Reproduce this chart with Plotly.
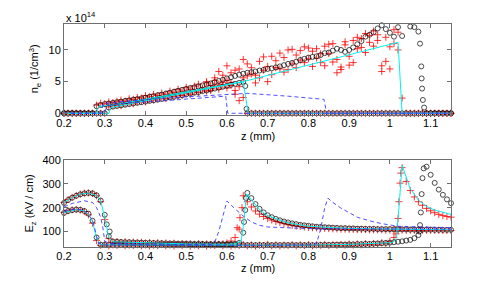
import plotly.graph_objects as go

# ---------------- data ----------------
z_grid = [0.20, 0.21, 0.22, 0.23, 0.24, 0.25, 0.26, 0.27, 0.28, 0.29,
          0.30, 0.31, 0.32, 0.33, 0.34, 0.35, 0.36, 0.37, 0.38, 0.39,
          0.40, 0.41, 0.42, 0.43, 0.44, 0.45, 0.46, 0.47, 0.48, 0.49,
          0.50, 0.51, 0.52, 0.53, 0.54, 0.55, 0.56, 0.57, 0.58, 0.59,
          0.60, 0.61, 0.62, 0.63, 0.64, 0.65, 0.66, 0.67, 0.68, 0.69,
          0.70, 0.71, 0.72, 0.73, 0.74, 0.75, 0.76, 0.77, 0.78, 0.79,
          0.80, 0.81, 0.82, 0.83, 0.84, 0.85, 0.86, 0.87, 0.88, 0.89,
          0.90, 0.91, 0.92, 0.93, 0.94, 0.95, 0.96, 0.97, 0.98, 0.99,
          1.00, 1.01, 1.02, 1.03, 1.04, 1.05, 1.06, 1.07, 1.08, 1.09,
          1.10, 1.11, 1.12, 1.13, 1.14, 1.15]

# electron density (x 1e14 1/cm^3) -- circles, two snapshots
ne_circ_A = [0, 0, 0, 0, 0, 0, 0, 0, 0, 0,
             0, 0.9, 1.05, 1.15, 1.25, 1.35, 1.45, 1.55, 1.65, 1.75,
             1.85, 1.95, 2.05, 2.15, 2.25, 2.4, 2.5, 2.6, 2.75, 2.85,
             3.0, 3.1, 3.25, 3.35, 3.5, 3.6, 3.75, 3.9, 4.05, 4.2,
             4.35, 4.5, 4.65, 4.8, 4.95, 0, 0, 0, 0, 0,
             0, 0, 0, 0, 0, 0, 0, 0, 0, 0,
             0, 0, 0, 0, 0, 0, 0, 0, 0, 0,
             0, 0, 0, 0, 0, 0, 0, 0, 0, 0,
             0, 0, 0, 0, 0, 0, 0, 0, 0, 0,
             0, 0, 0, 0, 0, 0]
ne_circ_B = [0, 0, 0, 0, 0, 0, 0, 0, 1.1, 1.3,
             1.45, 1.55, 1.65, 1.75, 1.85, 1.95, 2.05, 2.15, 2.25, 2.35,
             2.45, 2.6, 2.7, 2.85, 2.95, 3.1, 3.25, 3.4, 3.55, 3.7,
             3.85, 4.0, 4.1, 4.25, 4.4, 4.55, 4.7, 4.9, 5.1, 5.3,
             5.5, 5.7, 5.9, 6.1, 6.25, 6.4, 6.5, 6.6, 6.75, 6.85,
             7.0, 7.1, 7.25, 7.4, 7.6, 7.8, 7.95, 8.15, 8.4, 8.6,
             8.8, 8.9, 9.0, 9.2, 9.5, 9.6, 9.9, 10.2, 10.0, 9.7,
             10.0, 10.4, 10.9, 11.4, 12.1, 12.4, 12.8, 13.4, 13.9, 13.3,
             12.7, 12.1, 13.6, 12.2, None, 13.7, 13.6, 12.9, None, 0,
             0, 0, 0, 0, 0, 0]
ne_circ_extra_z = [0.645, 0.648, 1.074, 1.077, 1.078, 1.079, 1.081, 1.084]
ne_circ_extra = [4.3, 0.7, 11.0, 7.4, 5.5, 3.9, 2.1, 0.9]

# electron density -- red plus markers
ne_plus_A = [0, 0, 0, 0, 0, 0, 0, 0, 0, 0,
             0, 1.0, 1.2, 1.3, 1.2, 1.5, 1.6, 1.5, 1.8, 1.9,
             1.8, 2.2, 2.1, 2.3, 2.5, 2.3, 2.7, 2.6, 2.9, 2.8,
             3.2, 3.0, 3.4, 3.3, 3.7, 3.5, 3.9, 4.3, 3.8, 4.5,
             4.0, 4.9, 3.6, 4.2, 2.5, 0, 0, 0, 0, 0,
             0, 0, 0, 0, 0, 0, 0, 0, 0, 0,
             0, 0, 0, 0, 0, 0, 0, 0, 0, 0,
             0, 0, 0, 0, 0, 0, 0, 0, 0, 0,
             0, 0, 0, 0, 0, 0, 0, 0, 0, 0,
             0, 0, 0, 0, 0, 0]
ne_plus_B = [0, 0, 0, 0, 0, 0, 0, 0, 1.3, 1.6,
             1.5, 1.8, 1.7, 1.9, 2.1, 1.9, 2.3, 2.2, 2.5, 2.4,
             2.8, 2.6, 3.0, 2.8, 3.2, 3.0, 3.5, 3.3, 3.8, 3.5,
             4.1, 3.8, 4.3, 4.6, 4.0, 5.0, 4.4, 5.6, 4.6, 6.0,
             5.2, 6.4, 3.0, 7.0, 5.6, 7.8, 6.2, 4.8, 8.2, 6.8,
             5.0, 9.0, 7.2, 9.5, 6.5, 10.0, 7.8, 9.2, 8.4, 10.5,
             8.6, 9.8, 10.2, 8.0, 10.6, 9.4, 11.0, 8.5, 6.9, 10.8,
             7.6, 11.5, 12.0, 10.4, 12.6, 11.2, 13.0, 12.4, 7.5, 8.2,
             10.5, 13.2, 12.8, 2.4, 0, 0, 0, 0, 0, 0,
             0, 0, 0, 0, 0, 0]
ne_plus_B2 = [None, None, None, None, None, None, None, None, None, None,
              None, None, None, None, None, None, None, None, None, None,
              None, None, None, None, None, None, None, None, None, None,
              None, None, None, None, None, 4.8, 3.6, 5.2, 6.6, 4.9,
              7.5, 4.4, 6.8, 2.0, 8.5, 5.9, 7.2, 6.0, 5.6, 8.9,
              7.4, 6.1, 8.3, 7.0, 8.8, 6.9, 10.1, 7.2, 9.9, 8.0,
              10.3, 7.4, 8.7, 9.4, 7.5, 10.9, 8.1, 6.4, 7.3, 11.3,
              9.0, 8.0, 10.2, 11.8, 9.6, 12.3, 10.6, 11.5, 6.6, 12.0,
              7.0, 11.0, 10.0, None, None, None, None, None, None, None,
              None, None, None, None, None, None]

# electron density -- cyan solid and blue dashed curves
ne_cyanA_z = [0.2, 0.31, 0.315, 0.64, 0.652, 1.15]
ne_cyanA = [0, 0, 0.9, 5.0, 0, 0]
ne_cyanB_z = [0.2, 0.28, 0.285, 0.32, 0.64, 1.02, 1.03, 1.15]
ne_cyanB = [0, 0, 1.1, 1.3, 5.0, 11.2, 0, 0]
ne_dashA_z = [0.2, 0.3, 0.305, 0.35, 0.45, 0.55, 0.597, 0.602, 1.15]
ne_dashA = [0, 0, 1.2, 1.6, 2.0, 2.4, 2.7, 0, 0]
ne_dashB_z = [0.2, 0.29, 0.297, 0.35, 0.45, 0.55, 0.65, 0.75, 0.838, 0.845, 1.15]
ne_dashB = [0, 0, 1.5, 1.9, 2.4, 2.8, 3.15, 2.7, 2.2, 0, 0]

# axial electric field (kV/cm) -- circles
E_circ_A = [220, 232, 242, 250, 256, 260, 262, 260, 252, 230,
            170, 80, 58, 57, 56, 55, 55, 54, 54, 53,
            53, 52, 52, 51, 51, 50, 50, 50, 49, 49,
            49, 48, 48, 48, 48, 47, 47, 47, 47, 47,
            47, 47, 48, 52, 95, 262, 240, 215, 195, 180,
            168, 160, 153, 147, 142, 138, 134, 131, 128, 126,
            124, 122, 120, 119, 118, 117, 116, 115, 114, 114,
            113, 113, 112, 112, 111, 111, 111, 110, 110, 110,
            110, 109, 109, 109, 109, 108, 108, 108, 108, 108,
            108, 107, 107, 107, 107, 107]
E_circ_B = [178, 186, 190, 192, 191, 186, 175, 145, 75, 45,
            44, 44, 43, 43, 43, 43, 43, 43, 43, 43,
            43, 43, 43, 43, 43, 43, 43, 43, 43, 43,
            43, 43, 43, 43, 43, 43, 43, 43, 43, 43,
            43, 43, 43, 43, 43, 43, 43, 43, 43, 43,
            43, 43, 43, 43, 43, 43, 43, 43, 43, 43,
            43, 43, 43, 44, 44, 44, 44, 45, 45, 45,
            46, 46, 47, 47, 48, 48, 49, 50, 51, 52,
            53, 55, 57, 59, 62, 65, 72, 85, None, 372,
            338, 304, 276, 254, 235, 219]
E_circ_extra_z = [0.305, 0.312, 0.642, 0.645, 0.647, 1.072, 1.074, 1.076, 1.078, 1.080, 1.083]
E_circ_extra = [130, 100, 140, 190, 240, 100, 127, 180, 257, 324, 365]

# axial electric field -- red plus markers
E_plus_A = [222, 234, 244, 251, 257, 261, 262, 259, 250, 225,
            150, 70, 56, 58, 54, 57, 53, 56, 52, 55,
            51, 54, 50, 53, 49, 52, 48, 51, 47, 50,
            47, 49, 46, 49, 46, 48, 46, 48, 46, 49,
            52, 60, 75, 110, 250, 225, 203, 186, 173, 163,
            155, 148, 142, 137, 133, 129, 126, 123, 121, 119,
            117, 116, 115, 114, 113, 112, 111, 111, 110, 110,
            109, 109, 108, 108, 108, 107, 107, 107, 107, 106,
            106, 106, 106, 106, 105, 105, 105, 105, 105, 105,
            105, 105, 105, 104, 104, 104]
E_plus_B = [180, 187, 191, 192, 190, 184, 170, 135, 62, 42,
            45, 40, 44, 41, 46, 40, 43, 41, 45, 40,
            44, 39, 43, 41, 46, 40, 43, 39, 44, 41,
            45, 39, 43, 40, 45, 39, 43, 41, 46, 40,
            44, 39, 43, 41, 46, 40, 44, 39, 43, 41,
            46, 40, 44, 39, 43, 41, 45, 40, 44, 41,
            45, 40, 44, 42, 46, 41, 45, 42, 46, 43,
            47, 43, 48, 44, 49, 45, 50, 47, 53, 50,
            58, 75, 155, 368, 310, 272, 245, 225, 210, 197,
            187, 179, 172, 167, 163, 160]
E_plus_extra_z = [1.015, 1.018, 1.022, 1.025, 1.027, 0.625, 0.632, 0.637]
E_plus_extra = [90, 120, 225, 303, 345, 116, 158, 200]

# axial electric field -- cyan solid and blue dashed curves
E_cyanA_z = [0.2, 0.22, 0.24, 0.26, 0.28, 0.29, 0.3, 0.31, 0.32, 0.4, 0.5, 0.6, 0.62, 0.635,
             0.64, 0.648, 0.66, 0.68, 0.7, 0.75, 0.8, 0.9, 1.0, 1.15]
E_cyanA = [221, 243, 257, 262, 251, 228, 160, 75, 57, 52, 48, 47, 48, 60,
           120, 258, 232, 192, 166, 136, 122, 113, 110, 107]
E_cyanB_z = [0.2, 0.23, 0.25, 0.26, 0.27, 0.28, 0.29, 0.4, 0.6, 0.8, 0.9, 1.0, 1.01, 1.015,
             1.02, 1.03, 1.05, 1.07, 1.09, 1.11, 1.13, 1.15]
E_cyanB = [179, 192, 186, 173, 142, 70, 44, 43, 43, 43, 46, 53, 58, 70,
           150, 378, 280, 232, 205, 190, 180, 172]
E_dashA_z = [0.2, 0.22, 0.25, 0.27, 0.28, 0.29, 0.295, 0.3, 0.31, 0.4, 0.5, 0.56, 0.57, 0.58,
             0.59, 0.6, 0.62, 0.64, 0.66, 0.68, 0.7, 0.75, 0.8, 0.9, 1.0, 1.15]
E_dashA = [203, 218, 229, 222, 200, 160, 120, 60, 50, 47, 45, 46, 55, 100,
           170, 228, 195, 165, 140, 126, 119, 114, 112, 111, 110, 110]
E_dashB_z = [0.2, 0.23, 0.25, 0.27, 0.28, 0.285, 0.3, 0.5, 0.7, 0.81, 0.82, 0.83, 0.84, 0.848,
             0.86, 0.88, 0.9, 0.92, 0.95, 0.98, 1.02, 1.08, 1.15]
E_dashB = [185, 195, 188, 150, 80, 50, 44, 42, 42, 44, 50, 110, 200, 240,
           222, 198, 178, 160, 145, 133, 122, 118, 116]

x_tickvals = [0.2, 0.3, 0.4, 0.5, 0.6, 0.7, 0.8, 0.9, 1.0, 1.1]
x_ticktext = ["0.2", "0.3", "0.4", "0.5", "0.6", "0.7", "0.8", "0.9", "1", "1.1"]
ne_tickvals = [0, 5, 10]
E_tickvals = [100, 200, 300, 400]

# ---------------- figure ----------------
FONT = "Liberation Sans, Arial, Helvetica, sans-serif"
fig = go.Figure()

circ = dict(symbol="circle-open", size=5, color="black", line=dict(width=0.7, color="black"))
plus = dict(symbol="cross-thin", size=5, color="red", line=dict(width=0.8, color="red"))
cyan = dict(color="#00f0f0", width=1)
dash = dict(color="#3a3aff", width=0.9, dash="4px,3px")


def add_markers(x, y, m, xa, ya):
    fig.add_trace(go.Scatter(x=x, y=y, mode="markers", marker=m, xaxis=xa, yaxis=ya,
                             cliponaxis=False))


def add_line(x, y, ln, xa, ya):
    fig.add_trace(go.Scatter(x=x, y=y, mode="lines", line=ln, xaxis=xa, yaxis=ya))


# top panel: electron density
add_markers(z_grid, ne_plus_A, plus, "x", "y")
add_markers(z_grid, ne_plus_B, plus, "x", "y")
add_markers(z_grid, ne_plus_B2, plus, "x", "y")
add_markers(z_grid, ne_circ_A, circ, "x", "y")
add_markers(z_grid, ne_circ_B, circ, "x", "y")
add_markers(ne_circ_extra_z, ne_circ_extra, circ, "x", "y")
add_line(ne_cyanA_z, ne_cyanA, cyan, "x", "y")
add_line(ne_cyanB_z, ne_cyanB, cyan, "x", "y")
add_line(ne_dashA_z, ne_dashA, dash, "x", "y")
add_line(ne_dashB_z, ne_dashB, dash, "x", "y")

# bottom panel: electric field
add_markers(z_grid, E_plus_A, plus, "x2", "y2")
add_markers(z_grid, E_plus_B, plus, "x2", "y2")
add_markers(E_plus_extra_z, E_plus_extra, plus, "x2", "y2")
add_markers(z_grid, E_circ_A, circ, "x2", "y2")
add_markers(z_grid, E_circ_B, circ, "x2", "y2")
add_markers(E_circ_extra_z, E_circ_extra, circ, "x2", "y2")
add_line(E_cyanA_z, E_cyanA, cyan, "x2", "y2")
add_line(E_cyanB_z, E_cyanB, cyan, "x2", "y2")
add_line(E_dashA_z, E_dashA, dash, "x2", "y2")
add_line(E_dashB_z, E_dashB, dash, "x2", "y2")

axis_common = dict(showline=True, linecolor="#6f6f6f", linewidth=1, mirror="allticks",
                   ticks="inside", ticklen=4, tickcolor="#6f6f6f", tickwidth=1,
                   showgrid=False, zeroline=False, automargin=False,
                   tickfont=dict(family=FONT, size=11, color="black"))

fig.update_layout(
    template="none",
    width=498, height=282,
    margin=dict(l=64, r=47, t=24, b=35, pad=0),
    paper_bgcolor="white", plot_bgcolor="white",
    showlegend=False,
    font=dict(family=FONT, size=11, color="black"),
    xaxis=dict(domain=[0, 1], range=[0.2, 1.15], anchor="y", ticklabelstandoff=-2,
               tickvals=x_tickvals, ticktext=x_ticktext, **axis_common),
    yaxis=dict(domain=[0.594, 1], range=[-0.2, 14.1], anchor="x",
               tickvals=ne_tickvals, **axis_common),
    xaxis2=dict(domain=[0, 1], range=[0.2, 1.15], anchor="y2", ticklabelstandoff=-1,
                tickvals=x_tickvals, ticktext=x_ticktext, **axis_common),
    yaxis2=dict(domain=[0, 0.39], range=[35, 400], anchor="x2",
                tickvals=E_tickvals, **axis_common),
    annotations=[
        dict(text="x 10<sup>14</sup>", xref="paper", yref="paper", x=0, y=1,
             xanchor="left", yanchor="bottom", yshift=-2, showarrow=False,
             font=dict(family=FONT, size=11)),
        dict(text="n<sub>e</sub> (1/cm<sup>3</sup>)", xref="paper", yref="paper",
             x=0, y=0.797, xshift=-29, textangle=-90, showarrow=False,
             xanchor="center", yanchor="middle", font=dict(family=FONT, size=11)),
        dict(text="E<sub>z</sub> (kV / cm)", xref="paper", yref="paper",
             x=0, y=0.195, xshift=-34, textangle=-90, showarrow=False,
             xanchor="center", yanchor="middle", font=dict(family=FONT, size=11)),
        dict(text="z (mm)", xref="paper", yref="paper", x=0.5, y=0.497,
             xanchor="center", yanchor="middle", showarrow=False,
             font=dict(family=FONT, size=11)),
        dict(text="z (mm)", xref="paper", yref="paper", x=0.5, y=-0.094,
             xanchor="center", yanchor="middle", showarrow=False,
             font=dict(family=FONT, size=11)),
    ],
)

fig.write_html("out.html",
               config={"displayModeBar": False},
               post_script="document.body.style.margin='0';document.body.style.padding='0';")
